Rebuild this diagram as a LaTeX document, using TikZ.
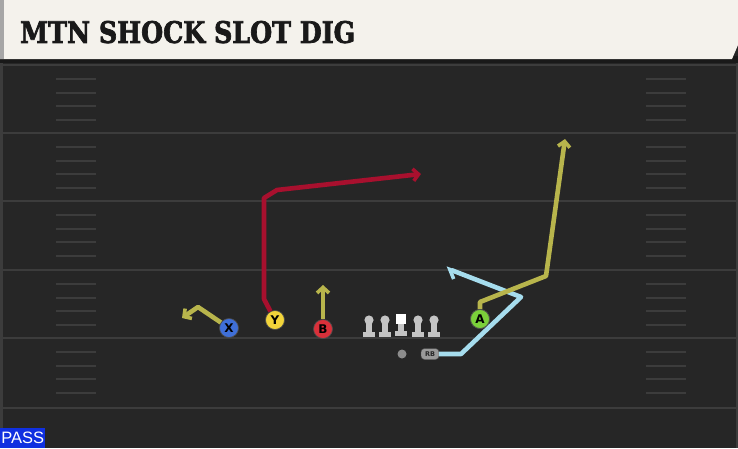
\documentclass[tikz,border=0pt]{standalone}
\usepackage{fontspec}
\setmainfont{DejaVu Sans}
\newfontfamily\titlefont{DejaVu Serif}[BoldFeatures={FakeBold=2.5}]
\newfontfamily\passfont{Liberation Sans}
\usetikzlibrary{arrows.meta}
\definecolor{fieldbg}{HTML}{262626}
\definecolor{fieldline}{HTML}{3C3C3C}
\definecolor{cream}{HTML}{F4F2EC}
\definecolor{olive}{HTML}{B8B54C}
\definecolor{routered}{HTML}{A8102E}
\definecolor{routeblue}{HTML}{A6DDEE}
\definecolor{pblue}{HTML}{3F6FD8}
\definecolor{pyellow}{HTML}{F2D43A}
\definecolor{pred}{HTML}{D9303A}
\definecolor{pgreen}{HTML}{7BD03A}
\definecolor{passblue}{HTML}{1030E0}
\definecolor{olgray}{HTML}{C4C4C4}
\tikzset{
  player/.style={circle,draw=black!70,line width=0.7pt,minimum size=19pt,inner sep=0pt,font=\bfseries\fontsize{12}{12}\selectfont,text=black},
  route/.style={line width=4.6pt,line join=round,-{Straight Barb[length=5.5pt,width=12pt,line width=3.6pt]}},
  yardline/.style={fieldline,line width=2.4pt},
  hashmark/.style={fieldline,line width=2pt},
  lineman/.pic={
    \fill[olgray] (0,0) circle (4.6);
    \fill[olgray] (-2.8,3) rectangle (2.8,11.5);
    \fill[olgray] (-6.2,11.5) rectangle (6.2,16.5);
  },
  centerman/.pic={
    \fill[white] (-5.2,-6) rectangle (5.2,3.5);
    \fill[olgray] (-2.8,3.5) rectangle (2.8,10.5);
    \fill[olgray] (-6.2,10.5) rectangle (6.2,15.5);
  }
}
\begin{document}
\begin{tikzpicture}[x=1pt,y=-1pt]
\useasboundingbox (0,0) rectangle (738,448);
% field
\fill[fieldbg] (0,0) rectangle (738,448);
\fill[fieldline] (0,59) rectangle (2.5,448);
\fill[fieldline] (735.5,59) rectangle (738,448);
% yard lines
\foreach \y in {65,133,201,270,338,408} {
  \draw[yardline] (0,\y) -- (738,\y);
}
% hash marks
\foreach \y in {65,133,201,270,338} {
  \foreach \d in {14,27.5,41,55} {
    \draw[hashmark] (56,\y+\d) -- (96,\y+\d);
    \draw[hashmark] (646,\y+\d) -- (686,\y+\d);
  }
}
% header
\fill[black!90] (0,56) rectangle (738,63);
\fill[cream] (0,0) -- (738,0) -- (738,45) -- (732,59) -- (0,59) -- cycle;
\fill[black!35] (0,0) rectangle (4,59);
\node[anchor=south west,inner sep=0pt,text=black!90] (title) at (20,43.5)
  {\resizebox{335pt}{22pt}{\titlefont\bfseries MTN SHOCK SLOT DIG}};
% PASS tag
\node[fill=passblue,anchor=south west,minimum width=45pt,minimum height=20pt,inner sep=0pt,text=white,font=\passfont\fontsize{16.5}{16.5}\selectfont] (pass) at (0,448) {PASS};
% offensive line
\pic at (369,320) {lineman};
\pic at (385,320) {lineman};
\pic at (401,320) {centerman};
\pic at (418,320) {lineman};
\pic at (434,320) {lineman};
\node[circle,fill=black!45,minimum size=9pt,inner sep=0pt] (ball) at (402,354) {};
% players
\node[player,fill=pblue] (X) at (229,328) {X};
\node[player,fill=pyellow] (Y) at (275,320) {Y};
\node[player,fill=pred] (B) at (323,329) {B};
\node[player,fill=pgreen] (A) at (480,319) {A};
\node[draw=black!70,fill=black!40,rounded corners=3.5pt,minimum width=18pt,minimum height=11pt,inner sep=0pt,font=\bfseries\fontsize{6.5}{6.5}\selectfont,text=black!85] (RB) at (430,354) {RB};
% route points
\coordinate (x1) at (198,307);
\coordinate (x2) at (182,318);
\coordinate (y1) at (264,299);
\coordinate (y2) at (264,198);
\coordinate (y3) at (277,190);
\coordinate (y4) at (421,174);
\coordinate (b1) at (323,285);
\coordinate (a1) at (480,302);
\coordinate (a2) at (546,276);
\coordinate (a3) at (565,139);
\coordinate (r1) at (461,354);
\coordinate (r2) at (521,297);
\coordinate (r3) at (446,268);
% routes
\draw[route,olive] (X) -- (x1) -- (x2);
\draw[route,routered] (Y) -- (y1) -- (y2) -- (y3) -- (y4);
\draw[route,olive] (B) -- (b1);
\draw[route,routeblue,-{Straight Barb[left,length=7pt,width=15pt,line width=3.6pt]}] (RB) -- (r1) -- (r2) -- (r3);
\draw[route,olive] (A.north) -- (a1) -- (a2) -- (a3);
\node[player,fill=pgreen] at (A) {A};
\end{tikzpicture}
\end{document}
